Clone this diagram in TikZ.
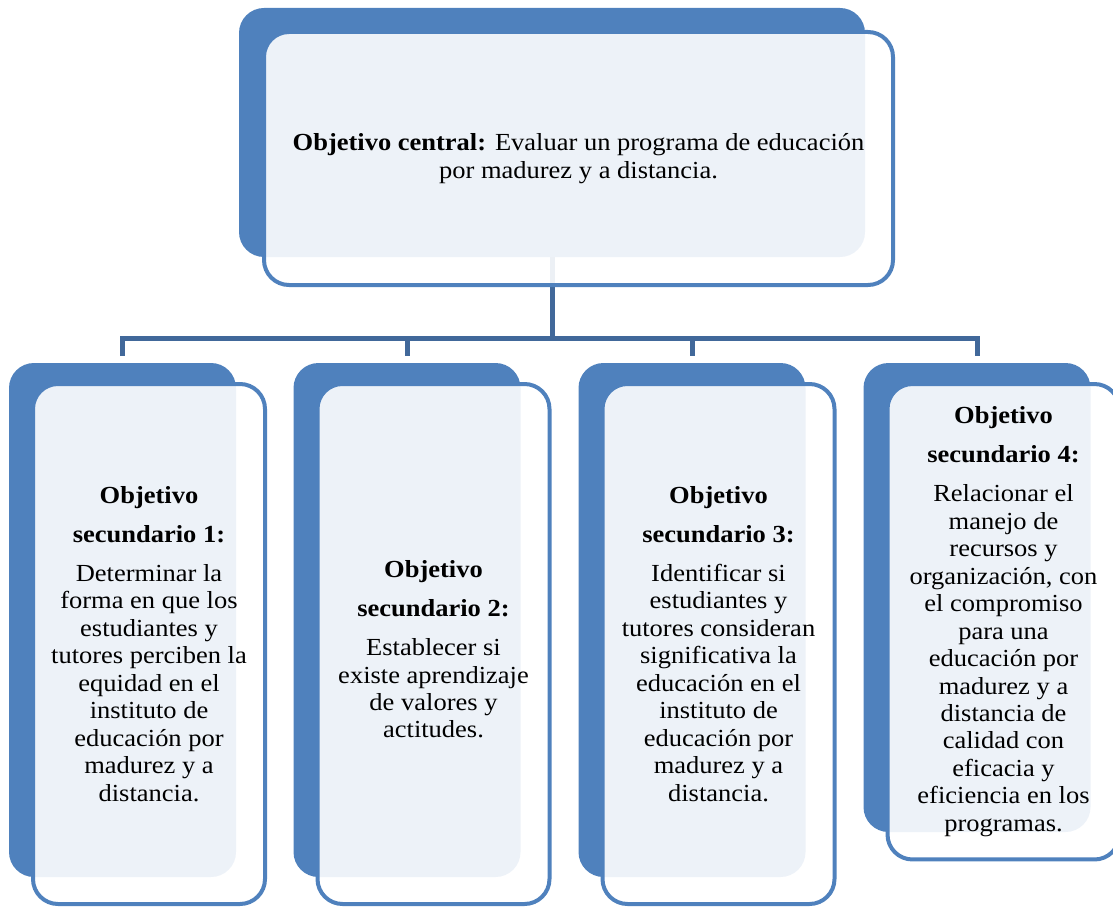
\documentclass[tikz,border=0pt]{standalone}
\usepackage{fontspec}
\setmainfont[FakeStretch=1.08]{Liberation Serif}
\usetikzlibrary{calc}
\definecolor{accent}{HTML}{4F81BD}
\definecolor{connblue}{HTML}{41689A}
\begin{document}
\begin{tikzpicture}[x=0.75pt,y=-0.75pt,
  backbox/.style={fill=accent, draw=none, rounded corners=18.75pt, inner sep=0pt,
    minimum width=170.25pt, minimum height=385.5pt},
  boxtext/.style={align=center, text=black, inner sep=0pt,
    font=\fontsize{18.4pt}{20.6pt}\selectfont},
  frontbox/.style={boxtext, draw=accent, line width=3pt, fill=white, fill opacity=0.9, text opacity=1,
    rounded corners=18.75pt, minimum width=174pt, minimum height=390pt},
  conn/.style={draw=connblue, line width=3.75pt}]
\useasboundingbox (0,0) rectangle (1113,913);

% back boxes
\node[backbox, minimum width=469.5pt, minimum height=186.75pt] (topback) at (552,132.5) {};
\node[backbox] (b1back) at (122.5,620) {};
\node[backbox] (b2back) at (407,620) {};
\node[backbox] (b3back) at (692,620) {};
\node[backbox, minimum height=351.75pt] (b4back) at (977,597.5) {};

% connectors
\coordinate (bus) at (0,338);
\draw[conn] (topback.south) -- (topback.south |- bus);
\draw[conn] ($(b1back.north)+(0,-6.5)$) |- (bus -| b4back.north) -- ($(b4back.north)+(0,-6.5)$);
\draw[conn] (b2back.north |- bus) -- ($(b2back.north)+(0,-6.5)$);
\draw[conn] (b3back.north |- bus) -- ($(b3back.north)+(0,-6.5)$);

% front boxes
\node[frontbox, minimum width=471.75pt, minimum height=189.75pt] (topfront) at (578.5,158.5)
  {\textbf{Objetivo central:} Evaluar un programa de educación\\por madurez y a distancia.};

\node[frontbox] (b1front) at (149,644)
  {\textbf{Objetivo}\\[8.6pt]\textbf{secundario 1:}\\[8.6pt]Determinar la\\forma en que los\\estudiantes y\\tutores perciben la\\equidad en el\\instituto de\\educación por\\madurez y a\\distancia.};

\node[frontbox] (b2front) at (433.5,644) {};
\node[boxtext] (b2text) at (433.5,649.5)
  {\textbf{Objetivo}\\[8.6pt]\textbf{secundario 2:}\\[8.6pt]Establecer si\\existe aprendizaje\\de valores y\\actitudes.};

\node[frontbox] (b3front) at (718.5,644)
  {\textbf{Objetivo}\\[8.6pt]\textbf{secundario 3:}\\[8.6pt]Identificar si\\estudiantes y\\tutores consideran\\significativa la\\educación en el\\instituto de\\educación por\\madurez y a\\distancia.};

\node[frontbox, minimum height=356.6pt] (b4front) at (1003.5,621.75)
  {\textbf{Objetivo}\\[8.6pt]\textbf{secundario 4:}\\[8.6pt]Relacionar el\\manejo de\\recursos y\\organización, con\\el compromiso\\para una\\educación por\\madurez y a\\distancia de\\calidad con\\eficacia y\\eficiencia en los\\programas.};
\end{tikzpicture}
\end{document}
